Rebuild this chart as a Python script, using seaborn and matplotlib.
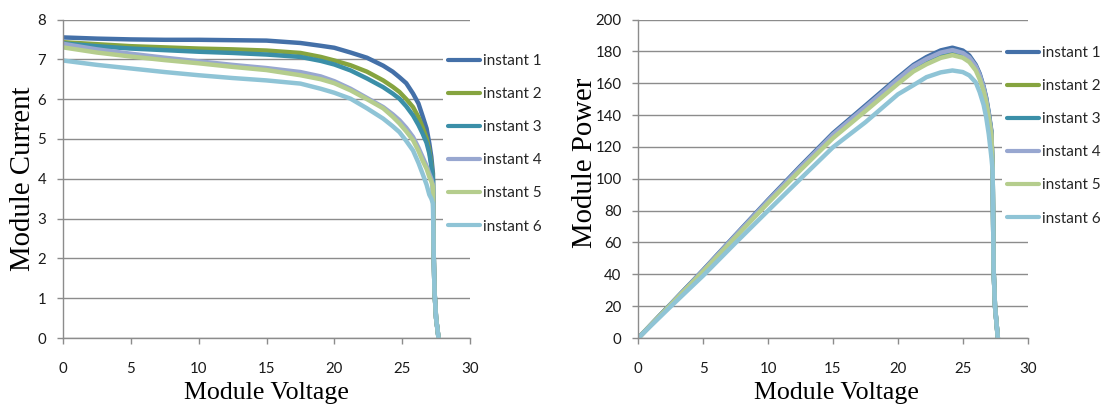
import numpy as np
import pandas as pd
import matplotlib
matplotlib.use("Agg")
import matplotlib.pyplot as plt
import seaborn as sns

# series names / colours (Excel-ish)
instants = ["instant 1", "instant 2", "instant 3", "instant 4", "instant 5", "instant 6"]
colors = ["#4470A8", "#86A43F", "#3B8FA8", "#98A7D0", "#B5CD8D", "#8FC4D6"]

# I-V curves
iv_volt = [0, 2.5, 5, 7.5, 10, 12.5, 15, 17.5, 19, 20, 21.2, 22.4, 23.6, 24.3, 24.8, 25.3,
           25.8, 26.2, 26.5, 26.8, 27.0, 27.15, 27.27, 27.32, 27.38, 27.5, 27.68]
iv_cur_1 = [7.55, 7.52, 7.50, 7.49, 7.49, 7.48, 7.47, 7.41, 7.34, 7.29, 7.17, 7.04, 6.84, 6.69, 6.55, 6.40,
            6.14, 5.89, 5.58, 5.26, 4.89, 4.55, 4.13, 2.2, 1.2, 0.5, 0]
iv_cur_2 = [7.43, 7.38, 7.33, 7.30, 7.27, 7.25, 7.22, 7.16, 7.06, 6.97, 6.85, 6.69, 6.47, 6.31, 6.18, 6.00,
            5.80, 5.55, 5.30, 5.02, 4.71, 4.38, 3.96, 2.2, 1.2, 0.5, 0]
iv_cur_3 = [7.40, 7.33, 7.27, 7.23, 7.19, 7.16, 7.12, 7.06, 6.96, 6.87, 6.72, 6.52, 6.30, 6.14, 6.01, 5.82,
            5.59, 5.35, 5.14, 4.90, 4.64, 4.32, 3.96, 2.2, 1.2, 0.5, 0]
iv_cur_4 = [7.39, 7.25, 7.14, 7.04, 6.95, 6.86, 6.78, 6.68, 6.57, 6.45, 6.26, 6.03, 5.80, 5.62, 5.47, 5.28,
            5.05, 4.78, 4.55, 4.32, 4.13, 4.00, 3.85, 2.2, 1.2, 0.5, 0]
iv_cur_5 = [7.30, 7.17, 7.07, 6.98, 6.90, 6.81, 6.73, 6.60, 6.50, 6.40, 6.22, 6.00, 5.77, 5.56, 5.39, 5.19,
            4.97, 4.70, 4.46, 4.25, 4.05, 3.93, 3.80, 2.2, 1.2, 0.5, 0]
iv_cur_6 = [6.97, 6.86, 6.77, 6.68, 6.60, 6.53, 6.47, 6.39, 6.26, 6.16, 6.01, 5.77, 5.51, 5.32, 5.17, 4.95,
            4.71, 4.40, 4.13, 3.85, 3.60, 3.50, 3.38, 2.2, 1.2, 0.5, 0]

# P-V curves
pv_volt = [0, 2.5, 5, 7.5, 10, 12.5, 15, 17.5, 20, 21.2, 22.2, 23.3, 24.2, 25.0, 25.5, 26.0,
           26.3, 26.6, 26.8, 27.0, 27.2, 27.3, 27.37, 27.48, 27.7]
pv_pow_1 = [0, 21.3, 42.7, 64.8, 86.7, 108.0, 128.6, 146.0, 163.5, 171.5, 176.4, 180.6, 182.3, 180.5, 177.4, 171.5,
            166.0, 158.0, 151.0, 141.5, 130.0, 105, 44, 20, 0]
pv_pow_2 = [0, 21.1, 42.2, 64.0, 85.6, 106.6, 126.8, 144.0, 161.3, 169.2, 173.8, 177.8, 179.5, 177.8, 175.0, 169.5,
            164.0, 156.3, 149.0, 139.5, 128.5, 105, 44, 20, 0]
pv_pow_3 = [0, 21.2, 42.4, 64.3, 86.0, 107.2, 127.5, 144.8, 162.2, 170.2, 174.8, 178.8, 180.6, 178.8, 176.0, 170.5,
            165.0, 157.2, 150.0, 140.5, 129.0, 105, 44, 20, 0]
pv_pow_4 = [0, 21.2, 42.5, 64.5, 86.2, 107.3, 127.8, 145.0, 162.5, 170.6, 175.2, 179.2, 180.8, 179.0, 176.2, 170.7,
            165.2, 157.4, 150.2, 140.7, 129.2, 105, 44, 20, 0]
pv_pow_5 = [0, 20.9, 41.8, 63.4, 84.8, 105.5, 125.5, 142.5, 159.6, 167.4, 171.9, 175.9, 177.6, 176.0, 173.3, 168.0,
            162.5, 155.0, 148.0, 138.5, 127.5, 105, 44, 20, 0]
pv_pow_6 = [0, 19.8, 39.2, 59.8, 80.0, 100.0, 119.8, 135.5, 153.0, 158.8, 163.8, 166.8, 168.0, 167.0, 164.9, 160.5,
            154.4, 146.5, 138.7, 128.0, 113.7, 105, 44, 20, 0]

iv_all = [iv_cur_1, iv_cur_2, iv_cur_3, iv_cur_4, iv_cur_5, iv_cur_6]
pv_all = [pv_pow_1, pv_pow_2, pv_pow_3, pv_pow_4, pv_pow_5, pv_pow_6]

iv_df = pd.concat([pd.DataFrame({"V": iv_volt, "I": c, "s": n}) for n, c in zip(instants, iv_all)])
pv_df = pd.concat([pd.DataFrame({"V": pv_volt, "P": p, "s": n}) for n, p in zip(instants, pv_all)])

sns.set_theme(style="white")
plt.rcParams["font.family"] = ["Lato", "DejaVu Sans"]

fig = plt.figure(figsize=(11.03, 4.07), dpi=100)
ax1 = fig.add_axes([63/1103, 69/407, 407/1103, 318.5/407])
ax2 = fig.add_axes([638.3/1103, 69/407, 389.4/1103, 318.5/407])

pal = dict(zip(instants, colors))
sns.lineplot(data=iv_df, x="V", y="I", hue="s", palette=pal, sort=False,
             estimator=None, lw=3.2, legend=False, ax=ax1)
sns.lineplot(data=pv_df, x="V", y="P", hue="s", palette=pal, sort=False,
             estimator=None, lw=3.2, legend=False, ax=ax2)

grid_c = "#8C8C8C"
for ax, ymax, ystep, leg_top in [(ax1, 8, 1, 0.906), (ax2, 200, 20, 0.931)]:
    ax.set_xlim(0, 30)
    ax.set_ylim(0, ymax)
    ax.set_xticks(range(0, 31, 5))
    ax.set_yticks(np.arange(0, ymax + 0.01, ystep))
    ax.yaxis.grid(True, color=grid_c, lw=1.0)
    ax.set_axisbelow(True)
    for s in ["top", "right"]:
        ax.spines[s].set_visible(False)
    for s in ["left", "bottom"]:
        ax.spines[s].set_color(grid_c)
        ax.spines[s].set_linewidth(1.0)
    ax.tick_params(axis="x", bottom=True, length=4, width=1, color=grid_c,
                   pad=13, labelsize=10.8, labelcolor="#1a1a1a")
    ax.tick_params(axis="y", left=True, length=4, width=1, color=grid_c,
                   pad=8, labelsize=10.8, labelcolor="#1a1a1a")

    handles = [plt.Line2D([], [], color=c, lw=3) for c in colors]
    leg = ax.legend(handles, instants, loc="upper left", bbox_to_anchor=(0.934, leg_top),
                    frameon=True, fontsize=11, handlelength=2.1, handletextpad=0.2,
                    labelspacing=1.25, borderpad=0.3, borderaxespad=0)
    leg.get_frame().set_facecolor("white")
    leg.get_frame().set_edgecolor("none")
    leg.get_frame().set_alpha(1)

ax1.set_xlabel("Module Voltage", family="Liberation Serif", fontsize=18.6, color="black")
ax1.set_ylabel("Module Current", family="Liberation Serif", fontsize=20.7, color="black")
ax2.set_xlabel("Module Voltage", family="Liberation Serif", fontsize=18.6, color="black")
ax2.set_ylabel("Module Power", family="Liberation Serif", fontsize=20.7, color="black")
ax1.xaxis.set_label_coords(0.5, -0.138)
ax2.xaxis.set_label_coords(0.51, -0.138)
ax1.yaxis.set_label_coords(-0.066, 0.5)
ax2.yaxis.set_label_coords(-0.104, 0.55)

plt.savefig("out.png", dpi=100)
